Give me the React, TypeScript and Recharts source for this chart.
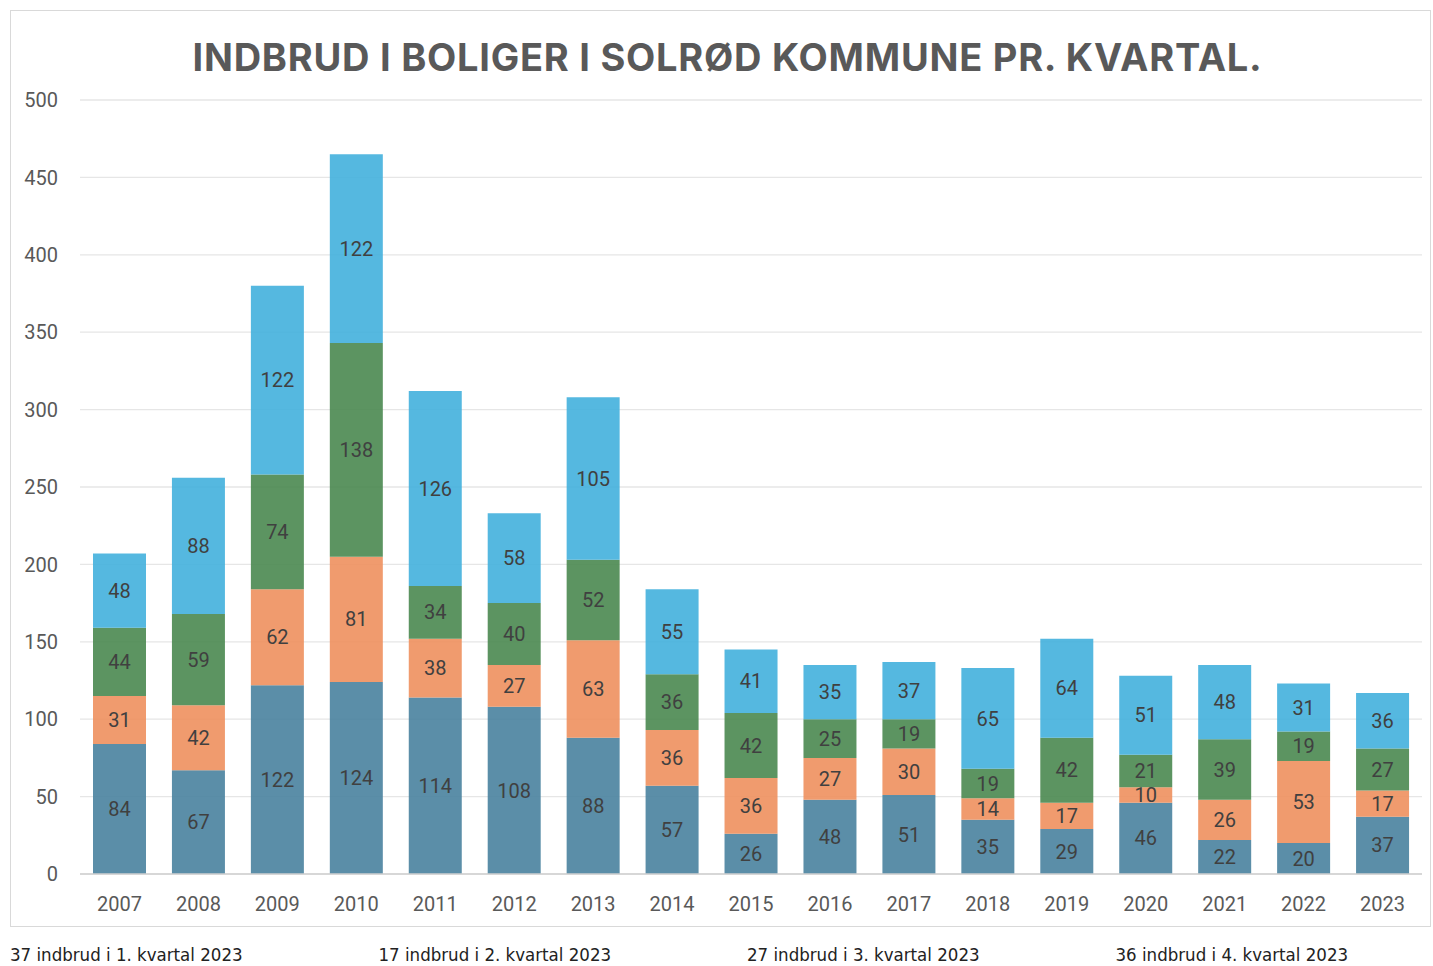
import React from "react";
import { BarChart, Bar, XAxis, YAxis, CartesianGrid, LabelList } from "recharts";

const years = ["2007","2008","2009","2010","2011","2012","2013","2014","2015","2016","2017","2018","2019","2020","2021","2022","2023"];
const q1 = [84,67,122,124,114,108,88,57,26,48,51,35,29,46,22,20,37];
const q2 = [31,42,62,81,38,27,63,36,36,27,30,14,17,10,26,53,17];
const q3 = [44,59,74,138,34,40,52,36,42,25,19,19,42,21,39,19,27];
const q4 = [48,88,122,122,126,58,105,55,41,35,37,65,64,51,48,31,36];
const yTicks = [0,50,100,150,200,250,300,350,400,450,500];
const title = "INDBRUD I BOLIGER I SOLRØD KOMMUNE PR. KVARTAL.";
const notes = [
  "37 indbrud i 1. kvartal 2023",
  "17 indbrud i 2. kvartal 2023",
  "27 indbrud i 3. kvartal 2023",
  "36 indbrud i 4. kvartal 2023",
];

const data = years.map((y, i) => ({ year: y, q1: q1[i], q2: q2[i], q3: q3[i], q4: q4[i] }));

const series = [
  { key: "q1", color: "#49829f" },
  { key: "q2", color: "#ee905e" },
  { key: "q3", color: "#4a8850" },
  { key: "q4", color: "#42b0dd" },
];

const font = "Roboto, 'Liberation Sans', sans-serif";

export default function App() {
  return (
    <div style={{ position: "absolute", left: 0, top: 0, width: 1433, height: 966, background: "#fff", fontFamily: font, overflow: "hidden" }}>
      <div style={{ position: "absolute", left: 10, top: 10, width: 1421, height: 917, border: "1px solid #d9d9d9", boxSizing: "border-box" }} />
      <div style={{ position: "absolute", left: 0, top: 34, width: 1455, textAlign: "center", fontSize: 38, lineHeight: "46px", fontWeight: 700, color: "#595959", fontFamily: "Inter, Roboto, sans-serif", letterSpacing: 0.75 }}>
        {title}
      </div>
      <div style={{ position: "absolute", left: 0, top: 0 }}>
        <BarChart width={1433} height={940} data={data} margin={{ top: 100, right: 11, bottom: 40, left: 0 }} barSize={53}>
          <CartesianGrid vertical={false} stroke="#e6e6e6" strokeWidth={1.3} />
          <XAxis dataKey="year" tickLine={false} axisLine={{ stroke: "#d0d0d0", strokeWidth: 1.5 }} tick={{ fill: "#595959", fontSize: 20, fontFamily: font }} tickMargin={17} height={26} interval={0} />
          <YAxis type="number" domain={[0, 500]} ticks={yTicks} tickLine={false} axisLine={false} width={80} tickMargin={16} tick={{ fill: "#595959", fontSize: 20, fontFamily: font }} />
          {series.map((s) => (
            <Bar key={s.key} dataKey={s.key} stackId="a" fill={s.color} fillOpacity={0.9} isAnimationActive={false}>
              <LabelList dataKey={s.key} position="center" fill="#404040" fontSize={20} fontFamily={font} />
            </Bar>
          ))}
        </BarChart>
      </div>
      {notes.map((n, i) => (
        <div key={n} style={{ position: "absolute", left: 10 + i * 368.5, top: 945, fontSize: 18.5, lineHeight: "19px", color: "#222", fontFamily: "'Liberation Sans Narrow', 'DejaVu Sans Condensed', sans-serif", whiteSpace: "nowrap" }}>
          {n}
        </div>
      ))}
    </div>
  );
}
